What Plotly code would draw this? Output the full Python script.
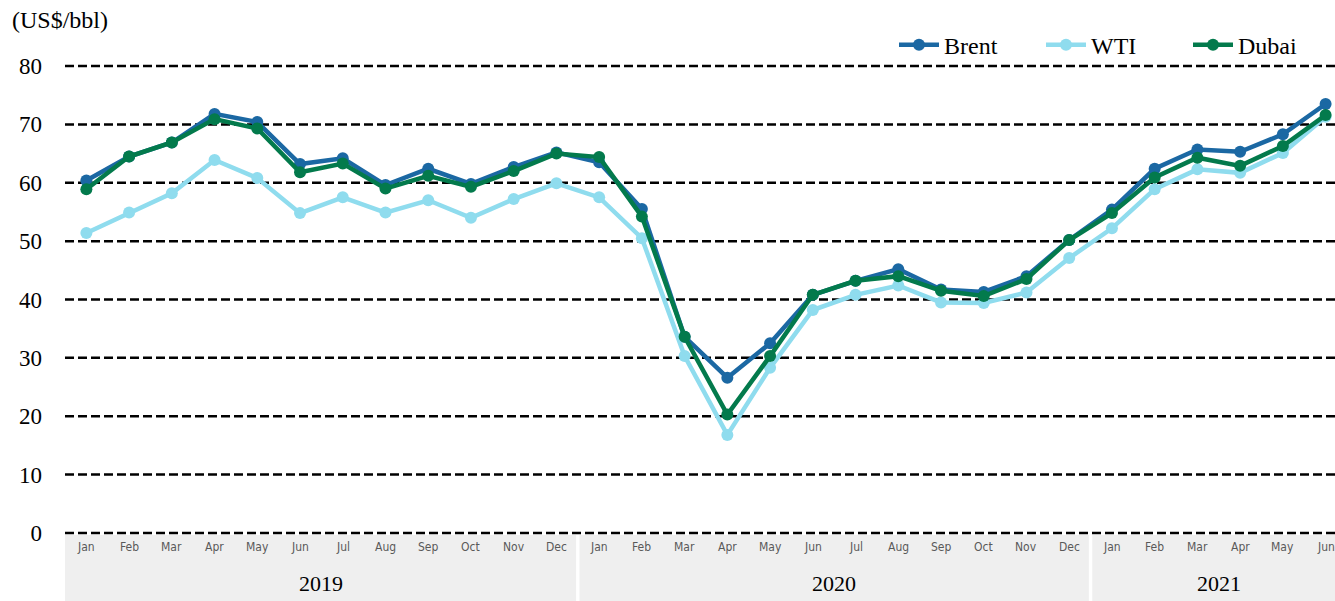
import plotly.graph_objects as go

# Monthly crude oil spot prices, Jan 2019 - Jun 2021 (US$/bbl)
months = ["Jan", "Feb", "Mar", "Apr", "May", "Jun", "Jul", "Aug", "Sep", "Oct", "Nov", "Dec",
          "Jan", "Feb", "Mar", "Apr", "May", "Jun", "Jul", "Aug", "Sep", "Oct", "Nov", "Dec",
          "Jan", "Feb", "Mar", "Apr", "May", "Jun"]
years = ["2019", "2020", "2021"]
year_lengths = [12, 12, 6]
y_ticks = [0, 10, 20, 30, 40, 50, 60, 70, 80]

brent = [60.4, 64.5, 66.9, 71.8, 70.4, 63.2, 64.2, 59.6, 62.4, 59.8, 62.7, 65.2,
         63.5, 55.5, 33.6, 26.6, 32.5, 40.8, 43.2, 45.2, 41.7, 41.3, 44.0, 50.2,
         55.4, 62.4, 65.7, 65.3, 68.3, 73.5]
wti = [51.4, 54.9, 58.2, 63.9, 60.8, 54.8, 57.5, 54.9, 57.0, 54.0, 57.2, 59.9,
       57.5, 50.5, 30.3, 16.8, 28.3, 38.2, 40.8, 42.4, 39.5, 39.4, 41.2, 47.1,
       52.2, 58.9, 62.3, 61.7, 65.1, 71.3]
dubai = [58.9, 64.5, 66.9, 70.9, 69.3, 61.8, 63.3, 59.0, 61.2, 59.3, 62.0, 65.0,
         64.4, 54.2, 33.6, 20.3, 30.3, 40.8, 43.2, 44.0, 41.5, 40.6, 43.5, 50.2,
         54.8, 60.9, 64.3, 62.9, 66.3, 71.6]

series = [("Brent", brent, "#1b68a3"), ("WTI", wti, "#8fdcee"), ("Dubai", dubai, "#037a4c")]

SERIF = "Liberation Serif, Times New Roman, serif"
SANS_NARROW = "Liberation Sans Narrow, DejaVu Sans Condensed, sans-serif"
x = list(range(len(months)))

fig = go.Figure()
for name, vals, color in series:
    fig.add_trace(go.Scatter(
        x=x, y=vals, name=name, mode="lines+markers",
        line=dict(color=color, width=4.5),
        marker=dict(color=color, size=12),
        cliponaxis=False,
    ))

shapes = []
annotations = []

# dashed horizontal gridlines, including the 0 and 80 edges
for v in y_ticks:
    shapes.append(dict(type="line", xref="paper", yref="y", x0=0, x1=1, y0=v, y1=v,
                       line=dict(color="#000000", width=2.5, dash="9px,4px"), layer="below"))

# category band under the axis: one grey block per year, month names and year label
start = 0
for yr, n in zip(years, year_lengths):
    x0 = start - 0.5 + (0.04 if start > 0 else 0)
    x1 = start + 12 - 0.5 - 0.04
    shapes.append(dict(type="rect", xref="x", yref="paper", x0=x0, x1=x1,
                       y0=-0.141, y1=0.0, fillcolor="#efefef",
                       line=dict(width=0), layer="below"))
    annotations.append(dict(text=yr, x=start + (n - 1) / 2, y=-0.104, xref="x", yref="paper",
                            showarrow=False, font=dict(family=SERIF, size=22, color="#000000"),
                            yanchor="middle"))
    start += n
for i, m in enumerate(months):
    annotations.append(dict(text=m, x=i, y=-0.0255, xref="x", yref="paper", showarrow=False,
                            font=dict(family=SANS_NARROW, size=12, color="#595959"),
                            yanchor="middle"))

# unit label above the value axis
annotations.append(dict(text="(US$/bbl)", x=-0.043, y=1.093, xref="paper", yref="paper",
                        showarrow=False, xanchor="left", yanchor="middle",
                        font=dict(family=SERIF, size=24, color="#000000")))

fig.update_layout(
    width=1335, height=601,
    margin=dict(l=65, r=0, t=64, b=66),
    paper_bgcolor="white", plot_bgcolor="white",
    showlegend=True,
    legend=dict(orientation="h", x=1.0, xanchor="right", y=1.040, yanchor="middle",
                font=dict(family=SERIF, size=24, color="#000000"),
                bgcolor="rgba(0,0,0,0)", entrywidth=92, itemwidth=40,
                traceorder="normal"),
    xaxis=dict(range=[-0.5, 29.22], showticklabels=False, showgrid=False,
               zeroline=False, showline=False, fixedrange=True),
    yaxis=dict(range=[-0.35, 80.35], tickvals=y_ticks, showgrid=False,
               zeroline=False, showline=False,
               tickfont=dict(family=SERIF, size=23, color="#000000"),
               ticklabelstandoff=22),
    shapes=shapes,
    annotations=annotations,
)

fig.write_html("out.html")
